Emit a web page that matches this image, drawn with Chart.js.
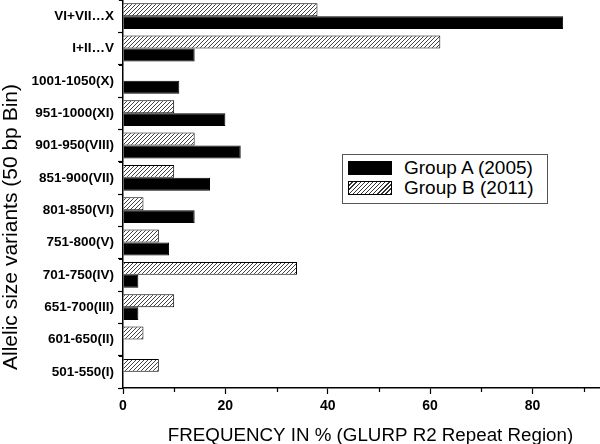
<!DOCTYPE html>
<html>
<head>
<meta charset="utf-8">
<script src="https://cdn.jsdelivr.net/npm/chart.js@4/dist/chart.umd.min.js"></script>
<style>
  html, body { margin: 0; padding: 0; background: #fff; }
  #wrap { position: relative; width: 600px; height: 444px; }
  #legend { position: absolute; left: 342px; top: 154px; width: 206px; height: 50px;
    border: 1px solid #555; background: #fff; font-family: "Liberation Sans", Arial, sans-serif;
    font-size: 19px; color: #000; box-sizing: border-box; }
  .row { position: absolute; left: 5px; height: 14px; display: flex; align-items: center; }
  .sw { width: 44px; height: 14px; box-sizing: border-box; border: 1px solid #000; margin-right: 12px; }
  .sw.a { background: #000; }
  .sw.b { background: repeating-linear-gradient(135deg, #fff 0px, #fff 2px, #333 2px, #333 2.9px); }
</style>
</head>
<body>
<div id="wrap">
  <canvas id="c" width="600" height="444"></canvas>
  <div id="legend">
    <div class="row" style="top:6px"><div class="sw a"></div><span>Group A (2005)</span></div>
    <div class="row" style="top:26px"><div class="sw b"></div><span>Group B (2011)</span></div>
  </div>
</div>
<script>
const categories = ['VI+VII\u2026X','I+II\u2026V','1001-1050(X)','951-1000(XI)','901-950(VIII)','851-900(VII)','801-850(VI)','751-800(V)','701-750(IV)','651-700(III)','601-650(II)','501-550(I)'];
const groupA = [86,14,11,20,23,17,14,9,3,3,0,0];
const groupB = [38,62,0,10,14,10,4,7,34,10,4,7];
const seriesNames = ['Group A (2005)','Group B (2011)'];
const xTickValues = [0,20,40,60,80];
const xTitle = 'FREQUENCY IN % (GLURP R2 Repeat Region)';
const yTitle = 'Allelic size variants (50 bp Bin)';

const FONT = '"Liberation Sans", Arial, sans-serif';

function hatch() {
  const p = document.createElement('canvas');
  p.width = 4; p.height = 4;
  const g = p.getContext('2d');
  g.fillStyle = '#fff'; g.fillRect(0,0,4,4);
  g.strokeStyle = '#2a2a2a'; g.lineWidth = 0.9;
  g.beginPath();
  g.moveTo(-1,5); g.lineTo(5,-1);
  g.moveTo(-1,1); g.lineTo(1,-1);
  g.moveTo(3,5); g.lineTo(5,3);
  g.stroke();
  return g.createPattern(p, 'repeat');
}

const extras = {
  id: 'extras',
  afterDraw(chart) {
    const ctx = chart.ctx, x = chart.scales.x, y = chart.scales.y, a = chart.chartArea;
    ctx.save();
    // minor ticks
    ctx.strokeStyle = '#000'; ctx.lineWidth = 1.2;
    ctx.beginPath();
    for (let v = 10; v <= x.max; v += 20) {
      const px = Math.round(x.getPixelForValue(v)) + 0.5;
      ctx.moveTo(px, x.top); ctx.lineTo(px, x.top + 4);
    }
    for (let i = 0; i <= categories.length; i++) {
      const py = Math.round(y.getPixelForValue(i - 0.5)) + 0.5;
      ctx.moveTo(y.right, py); ctx.lineTo(y.right - 4, py);
    }
    ctx.stroke();
    // axis titles
    ctx.fillStyle = '#000';
    ctx.textAlign = 'center';
    ctx.textBaseline = 'middle';
    ctx.font = '18.75px ' + FONT;
    ctx.fillText(xTitle, (a.left + a.right) / 2 + 9, 436);
    ctx.translate(11, 227);
    ctx.rotate(-Math.PI / 2);
    ctx.font = '21px ' + FONT;
    ctx.fillText(yTitle, 0, 0);
    ctx.restore();
  }
};

new Chart(document.getElementById('c'), {
  type: 'bar',
  data: {
    labels: categories,
    datasets: [
      { label: seriesNames[1], data: groupB, backgroundColor: hatch(), borderColor: '#000', borderWidth: 1 },
      { label: seriesNames[0], data: groupA, backgroundColor: '#000', borderColor: '#000', borderWidth: 1 }
    ]
  },
  options: {
    indexAxis: 'y',
    responsive: false,
    animation: false,
    layout: { padding: { left: 25, right: 0, top: 0, bottom: 0 } },
    plugins: { legend: { display: false }, tooltip: { enabled: false } },
    datasets: { bar: { barPercentage: 1.0, categoryPercentage: 0.8 } },
    scales: {
      x: {
        min: 0, max: 93.2,
        afterBuildTicks(s) { s.ticks = xTickValues.map(v => ({ value: v })); },
        afterFit(s) { s.height = 56; s.paddingLeft = 0; s.paddingRight = 0; },
        grid: { display: true, drawOnChartArea: false, drawTicks: true, tickLength: 6, tickColor: '#000', tickWidth: 1.2 },
        border: { display: true, color: '#000', width: 1.5 },
        ticks: { color: '#000', font: { family: FONT, size: 14, weight: 'bold' }, padding: 4, maxRotation: 0 },
        title: { display: false }
      },
      y: {
        afterFit(s) { s.width = 98; s.paddingTop = 0; s.paddingBottom = 0; },
        grid: { display: true, drawOnChartArea: false, drawTicks: true, tickLength: 5, tickColor: '#000', tickWidth: 1.2 },
        border: { display: true, color: '#000', width: 1.5 },
        ticks: { color: '#000', font: { family: FONT, size: 13.5, weight: 'bold' }, padding: 4, autoSkip: false },
        title: { display: false }
      }
    }
  },
  plugins: [extras]
});
</script>
</body>
</html>
